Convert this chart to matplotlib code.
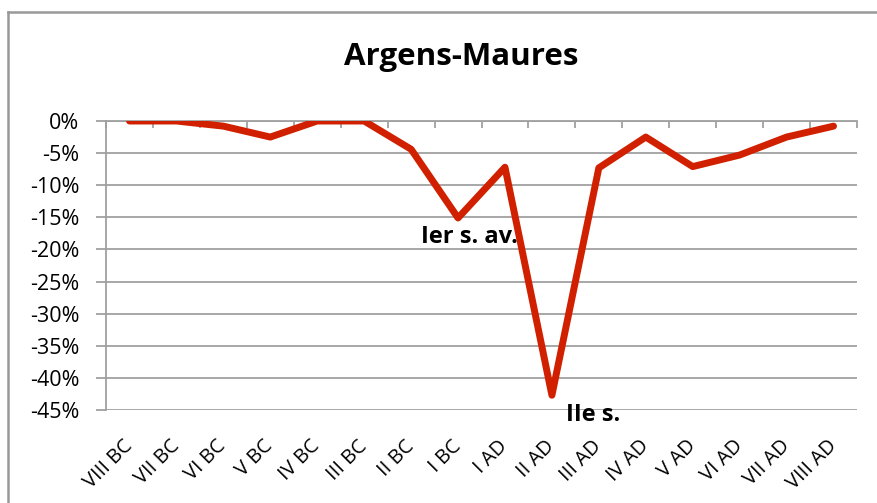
import matplotlib
matplotlib.use("Agg")
import matplotlib.pyplot as plt
from matplotlib.ticker import FuncFormatter, FixedLocator
from matplotlib.lines import Line2D

plt.rcParams['font.family'] = ['Open Sans', 'DejaVu Sans']

# data
centuries = ["VIII BC", "VII BC", "VI BC", "V BC", "IV BC", "III BC", "II BC", "I BC",
             "I AD", "II AD", "III AD", "IV AD", "V AD", "VI AD", "VII AD", "VIII AD"]
change = [0.0, 0.0, -0.008, -0.025, 0.0, 0.0, -0.044, -0.151,
          -0.072, -0.427, -0.073, -0.025, -0.071, -0.053, -0.025, -0.008]
notes = [("Ier s. av.", 7), ("IIe s.", 9)]
y_ticks = [0, -0.05, -0.10, -0.15, -0.20, -0.25, -0.30, -0.35, -0.40, -0.45]

grid_col = "#a0a0a0"
line_col = "#d02000"

fig = plt.figure(figsize=(8.77, 5.03), dpi=100)
ax = fig.add_axes([106/877, 1 - 410/503, (857 - 106)/877, (410 - 121)/503])

x = list(range(len(centuries)))
ax.plot(x, change, color=line_col, lw=5, solid_capstyle='round', solid_joinstyle='round', zorder=3)

ax.set_xlim(-0.5, len(centuries) - 0.5)
ax.set_ylim(-0.45, 0)
ax.yaxis.set_major_locator(FixedLocator(y_ticks))
ax.yaxis.set_major_formatter(FuncFormatter(lambda v, p: "{:.0f}%".format(round(v * 100))))
ax.grid(axis='y', color=grid_col, lw=1.3)
ax.set_axisbelow(True)

# category labels at the bottom, boundary ticks hanging from the 0% line
ax.set_xticks(x)
ax.set_xticklabels(centuries, rotation=45, ha='right', va='center', rotation_mode='anchor', fontsize=14.5)
ax.tick_params(axis='x', bottom=False, length=0, pad=24)
ax.set_xticks([i - 0.5 for i in range(len(centuries) + 1)], minor=True)
ax.tick_params(axis='x', which='minor', bottom=False, top=True, direction='in', length=5,
               width=1.3, color=grid_col)
ax.tick_params(axis='y', direction='out', length=7, width=1.3, color=grid_col, labelsize=15.5, pad=12)

for side in ['right', 'bottom']:
    ax.spines[side].set_visible(False)
for side in ['left', 'top']:
    ax.spines[side].set_color(grid_col)
    ax.spines[side].set_linewidth(1.3)

fig.text(461/877, 1 - 57/503, "Argens-Maures", fontsize=22.5, fontweight='bold', ha='center', va='center')

ax.annotate(notes[0][0], (notes[0][1], change[notes[0][1]]), xytext=(11, -19),
            textcoords='offset pixels', ha='center', va='center', fontsize=17, fontweight='bold', zorder=4)
ax.annotate(notes[1][0], (notes[1][1], change[notes[1][1]]), xytext=(41, -20),
            textcoords='offset pixels', ha='center', va='center', fontsize=17, fontweight='bold', zorder=4)

# chart area border
fig.add_artist(Line2D([8/877, 1], [1 - 12/503, 1 - 12/503], color="#999999", lw=1.8))
fig.add_artist(Line2D([8/877, 8/877], [0, 1 - 12/503], color="#999999", lw=1.8))

fig.savefig("out.png", dpi=100)
